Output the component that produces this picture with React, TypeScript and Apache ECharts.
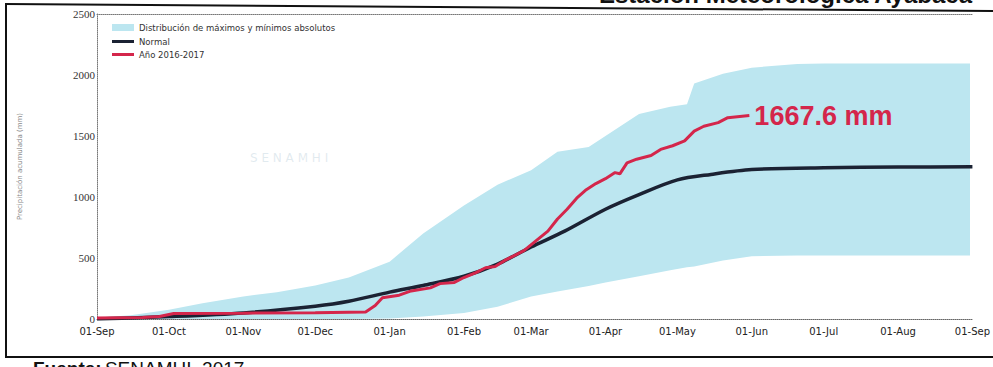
import React, { useEffect, useRef } from "react";
import * as echarts from "echarts";

// Hydrological year Sep 2016 – Sep 2017, cumulative precipitation (mm)
const START = "2016-09-01";

const monthStarts = [
  "2016-09-01", "2016-10-01", "2016-11-01", "2016-12-01", "2017-01-01", "2017-02-01",
  "2017-03-01", "2017-04-01", "2017-05-01", "2017-06-01", "2017-07-01", "2017-08-01", "2017-09-01",
];
const monthLabels = [
  "01-Sep", "01-Oct", "01-Nov", "01-Dec", "01-Jan", "01-Feb",
  "01-Mar", "01-Apr", "01-May", "01-Jun", "01-Jul", "01-Aug", "01-Sep",
];

// Envelope of absolute maxima / minima
const bandDates = [
  "2016-09-01", "2016-09-15", "2016-10-01", "2016-10-15", "2016-11-01", "2016-11-15",
  "2016-12-01", "2016-12-15", "2017-01-01", "2017-01-15", "2017-02-01", "2017-02-15",
  "2017-03-01", "2017-03-12", "2017-03-25", "2017-04-01", "2017-04-15", "2017-04-28",
  "2017-05-05", "2017-05-08", "2017-05-20", "2017-06-01", "2017-06-20", "2017-07-01",
  "2017-08-01", "2017-08-31",
];
const bandHigh = [
  10, 30, 75, 130, 185, 220, 275, 340, 470, 700, 930, 1100,
  1220, 1370, 1410, 1500, 1680, 1740, 1760, 1930, 2010, 2060, 2090, 2095,
  2095, 2095,
];
const bandLow = [
  0, 0, 0, 0, 0, 0, 0, 0, 5, 20, 50, 100,
  185, 225, 270, 300, 350, 400, 425, 430, 480, 515, 520, 520,
  520, 520,
];

// Climatological normal
const normalDates = [
  "2016-09-01", "2016-10-01", "2016-11-01", "2016-12-01", "2016-12-15", "2017-01-01",
  "2017-01-15", "2017-02-01", "2017-02-15", "2017-03-01", "2017-03-15", "2017-04-01",
  "2017-04-15", "2017-05-01", "2017-05-15", "2017-06-01", "2017-07-01", "2017-08-01",
  "2017-09-01",
];
const normalValues = [
  0, 20, 50, 105, 145, 220, 275, 350, 450, 590, 720, 900,
  1020, 1140, 1185, 1225, 1240, 1245, 1248,
];

// Season 2016-2017
const seasonDates = [
  "2016-09-01", "2016-09-20", "2016-09-27", "2016-10-03", "2016-11-01", "2016-12-01",
  "2016-12-22", "2016-12-26", "2016-12-29", "2017-01-05", "2017-01-10", "2017-01-18",
  "2017-01-22", "2017-01-28", "2017-02-01", "2017-02-06", "2017-02-10", "2017-02-14",
  "2017-02-18", "2017-02-22", "2017-02-26", "2017-03-03", "2017-03-08", "2017-03-12",
  "2017-03-16", "2017-03-20", "2017-03-24", "2017-03-28", "2017-04-01", "2017-04-05",
  "2017-04-07", "2017-04-10", "2017-04-14", "2017-04-20", "2017-04-24", "2017-04-29",
  "2017-05-04", "2017-05-08", "2017-05-12", "2017-05-18", "2017-05-22", "2017-05-31",
];
const seasonValues = [
  8, 12, 20, 45, 48, 52,
  58, 110, 175, 195, 230, 255,
  290, 300, 340, 380, 420, 430,
  480, 520, 560, 640, 720, 820,
  900, 990, 1060, 1110, 1150, 1200,
  1190, 1280, 1310, 1340, 1390, 1420,
  1460, 1540, 1580, 1610, 1650, 1667.6,
];

const dayOf = (d: string) => (Date.parse(d) - Date.parse(START)) / 86400000;
const monthDays = monthStarts.map(dayOf);

const BAND_NAME = "Distribución de máximos y mínimos absolutos";
const NORMAL_NAME = "Normal";
const SEASON_NAME = "Año 2016-2017";
const BAND_COLOR = "#bce6f0";

export default function App() {
  const ref = useRef<HTMLDivElement>(null);

  useEffect(() => {
    if (!ref.current) return;
    const chart = echarts.init(ref.current, null, { renderer: "svg" });

    const band = bandDates.map((d, i) => [dayOf(d), bandLow[i], bandHigh[i]]);
    const normal = normalDates.map((d, i) => [dayOf(d), normalValues[i]]);
    const season = seasonDates.map((d, i) => [dayOf(d), seasonValues[i]]);

    chart.setOption({
      animation: false,
      backgroundColor: "#ffffff",
      grid: { left: 97, right: 18, top: 14, bottom: 48 },
      legend: [
        {
          orient: "vertical",
          left: 107,
          top: 18,
          itemWidth: 22,
          itemHeight: 7,
          data: [{ name: BAND_NAME, icon: "rect" }],
          textStyle: { fontSize: 8.5, color: "#333", fontFamily: "DejaVu Sans" },
          selectedMode: false,
        },
        {
          orient: "vertical",
          left: 107,
          top: 32,
          itemWidth: 22,
          itemHeight: 3,
          itemGap: 4,
          data: [
            { name: NORMAL_NAME, icon: "rect" },
            { name: SEASON_NAME, icon: "rect" },
          ],
          textStyle: { fontSize: 8.5, color: "#333", fontFamily: "DejaVu Sans" },
          selectedMode: false,
        },
      ],
      xAxis: [
        {
          type: "value",
          min: 0,
          max: monthDays[monthDays.length - 1],
          axisLine: { show: true, lineStyle: { color: "#666", type: "dotted", width: 1 } },
          axisTick: { show: false },
          splitLine: { show: false },
          axisLabel: {
            customValues: monthDays,
            formatter: (v: number) => {
              const i = monthDays.indexOf(v);
              return i >= 0 ? monthLabels[i] : "";
            },
            fontFamily: "DejaVu Sans",
            fontSize: 10,
            color: "#222",
            margin: 7,
          },
        },
        {
          type: "value",
          position: "top",
          min: 0,
          max: monthDays[monthDays.length - 1],
          axisLine: { show: true, lineStyle: { color: "#777", type: "dotted", width: 1 } },
          axisTick: { show: false },
          axisLabel: { show: false },
          splitLine: { show: false },
        },
      ],
      yAxis: {
        type: "value",
        min: 0,
        max: 2500,
        interval: 500,
        name: "Precipitación acumulada (mm)",
        nameLocation: "middle",
        nameRotate: 90,
        nameGap: 74,
        nameTextStyle: { fontSize: 7, color: "#888", fontFamily: "DejaVu Sans" },
        axisLine: { show: true, lineStyle: { color: "#777", type: "dotted", width: 1 } },
        axisTick: { show: false },
        splitLine: { show: false },
        axisLabel: {
          formatter: (v: number) => String(v),
          fontFamily: "Liberation Serif",
          fontSize: 11,
          color: "#333",
          margin: 2,
        },
      },
      series: [
        {
          // envelope drawn as one polygon: maxima forward, minima backward
          name: BAND_NAME,
          type: "custom",
          data: band,
          encode: { x: 0, y: [1, 2] },
          itemStyle: { color: BAND_COLOR },
          silent: true,
          z: 1,
          renderItem: (params: any, api: any) => {
            if (params.dataIndex !== 0) return null;
            const upper = band.map((p) => api.coord([p[0], p[2]]));
            const lower = band.map((p) => api.coord([p[0], p[1]])).reverse();
            return {
              type: "polygon",
              shape: { points: upper.concat(lower) },
              style: { fill: BAND_COLOR },
            };
          },
        },
        {
          name: NORMAL_NAME,
          type: "line",
          data: normal,
          symbol: "none",
          smooth: 0.3,
          color: "#1b2233",
          lineStyle: { color: "#1b2233", width: 3.5 },
          z: 3,
        },
        {
          name: SEASON_NAME,
          type: "line",
          data: season,
          symbol: "none",
          color: "#d4264b",
          lineStyle: { color: "#d4264b", width: 3 },
          z: 4,
          endLabel: {
            show: true,
            distance: 5,
            formatter: (p: any) => `${p.value[1]} mm`,
            color: "#d4264b",
            fontFamily: "Liberation Sans",
            fontWeight: "bold",
            fontSize: 27,
          },
        },
      ],
      graphic: [
        // scanned page frame
        { type: "line", shape: { x1: 6, y1: 4, x2: 6, y2: 358 }, style: { stroke: "#111", lineWidth: 2 }, silent: true },
        { type: "line", shape: { x1: 5, y1: 357, x2: 993, y2: 357 }, style: { stroke: "#111", lineWidth: 2 }, silent: true },
        { type: "polyline", shape: { points: [[5, 4], [993, 11]] }, style: { stroke: "#111", lineWidth: 2, fill: "none" }, silent: true },
        {
          type: "text",
          x: 972,
          y: 6,
          style: {
            text: "Estación Meteorológica Ayabaca",
            align: "right",
            verticalAlign: "bottom",
            fontFamily: "Liberation Sans",
            fontWeight: "bold",
            fontSize: 24,
            fill: "#111",
          },
          silent: true,
          z: -1,
        },
        {
          type: "text",
          x: 250,
          y: 152,
          style: {
            text: "S E N A M H I",
            fontFamily: "DejaVu Sans",
            fontSize: 12,
            fill: "rgba(170,195,210,0.35)",
          },
          silent: true,
        },
        {
          type: "text",
          x: 33,
          y: 359,
          style: {
            rich: {
              b: { fontFamily: "Liberation Sans", fontWeight: "bold", fontSize: 19, fill: "#111" },
              n: { fontFamily: "Liberation Sans", fontSize: 19, fill: "#111" },
            },
            text: "{b|Fuente:} {n|SENAMHI, 2017}",
            verticalAlign: "top",
          },
          silent: true,
        },
      ],
    });

    return () => chart.dispose();
  }, []);

  return (
    <div
      ref={ref}
      style={{ position: "absolute", left: 0, top: 0, width: 993, height: 367, background: "#fff" }}
    />
  );
}
